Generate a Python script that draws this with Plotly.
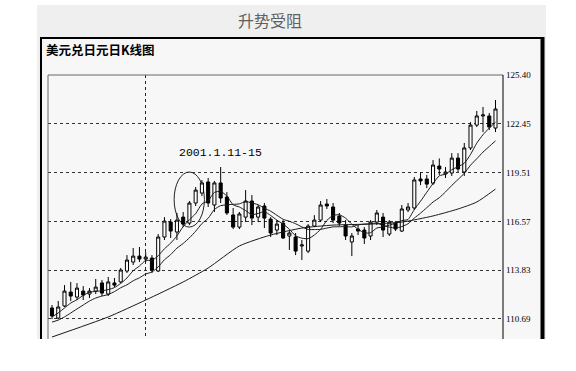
import plotly.graph_objects as go

# ---------------- data ----------------
day_index = list(range(1, 73))

open_ = [111.35, 110.74, 111.47, 112.31, 112.01, 112.37, 112.19, 112.37, 112.86, 112.19,
         112.86, 112.92, 113.58, 114.12, 114.48, 114.30, 114.36, 113.58, 115.63, 116.53,
         115.93, 116.83, 116.47, 117.68, 118.28, 118.95, 117.56, 118.89, 118.04, 116.96,
         116.23, 116.83, 117.80, 116.83, 117.50, 116.71, 116.05, 116.47, 115.69, 115.63,
         115.09, 114.78, 116.29, 116.65, 117.62, 117.44, 116.89, 116.35, 115.33, 116.11,
         116.05, 115.69, 116.53, 116.83, 115.81, 116.47, 115.99, 117.26, 117.38, 119.13,
         119.13, 118.88, 119.91, 119.43, 119.49, 120.39, 119.55, 121.00, 122.38, 122.93,
         122.93, 122.20]
high = [111.53, 111.77, 112.73, 112.92, 112.85, 112.67, 112.55, 113.10, 113.04, 113.22,
        113.16, 113.76, 114.54, 114.97, 115.03, 114.72, 114.54, 115.81, 116.83, 116.71,
        117.08, 117.14, 117.80, 118.64, 119.07, 119.19, 119.01, 119.85, 118.34, 117.38,
        117.14, 118.46, 118.16, 117.56, 117.68, 116.83, 116.65, 116.65, 115.99, 115.87,
        115.45, 116.41, 116.95, 117.80, 117.92, 117.68, 117.08, 116.65, 115.87, 116.35,
        116.23, 116.65, 117.26, 117.08, 116.65, 116.59, 117.56, 117.68, 119.25, 119.55,
        119.37, 120.27, 120.37, 119.85, 120.69, 120.69, 121.30, 122.56, 123.23, 123.47,
        123.11, 123.89]
low = [110.68, 110.68, 111.41, 111.77, 111.83, 111.83, 111.95, 112.19, 112.07, 112.07,
       112.61, 112.86, 113.46, 113.94, 114.12, 114.12, 113.46, 113.52, 115.45, 115.57,
       115.45, 116.23, 116.35, 117.50, 118.10, 117.44, 117.14, 117.68, 116.96, 116.11,
       116.11, 116.53, 116.35, 116.53, 116.17, 115.63, 115.75, 115.51, 114.85, 114.54,
       114.24, 114.66, 116.23, 116.53, 117.32, 116.47, 116.29, 115.45, 114.48, 115.75,
       115.21, 115.45, 116.35, 115.63, 115.69, 115.99, 115.93, 117.14, 117.26, 118.76,
       118.58, 118.76, 119.37, 119.19, 119.31, 119.55, 119.31, 120.88, 122.26, 121.96,
       122.08, 121.96]
close = [110.87, 111.41, 112.37, 112.07, 112.55, 112.13, 112.37, 112.61, 112.25, 112.92,
         112.73, 113.64, 114.24, 114.48, 114.30, 114.42, 113.64, 115.63, 116.59, 115.99,
         116.65, 116.41, 117.68, 118.46, 118.89, 117.68, 118.89, 117.98, 117.08, 116.23,
         117.02, 117.80, 116.77, 117.44, 116.77, 115.87, 116.41, 115.57, 115.87, 114.78,
         115.15, 116.29, 116.65, 117.56, 117.50, 116.65, 116.47, 115.69, 115.69, 115.99,
         115.57, 116.53, 117.08, 116.05, 116.53, 116.11, 117.32, 117.44, 119.07, 119.01,
         118.82, 119.97, 119.73, 119.55, 120.39, 119.73, 121.00, 122.38, 122.93, 122.99,
         122.26, 123.35]

ma_short = [110.81, 111.05, 111.35, 111.65, 111.85, 112.11, 112.30, 112.35, 112.39, 112.46,
            112.58, 112.83, 113.16, 113.60, 113.88, 114.22, 114.22, 114.50, 114.92, 115.26,
            115.70, 116.26, 116.67, 117.04, 117.62, 117.82, 118.32, 118.38, 118.10, 117.57,
            117.44, 117.22, 116.98, 117.05, 117.16, 116.93, 116.65, 116.41, 116.10, 115.70,
            115.56, 115.53, 115.75, 116.09, 116.63, 116.93, 116.97, 116.77, 116.40, 116.10,
            115.88, 115.89, 116.17, 116.24, 116.35, 116.46, 116.62, 116.69, 117.29, 117.79,
            118.33, 118.86, 119.32, 119.42, 119.69, 119.87, 120.08, 120.61, 121.29, 121.80,
            122.20, 122.55]
ma_mid = [110.50, 110.62, 110.81, 111.05, 111.29, 111.53, 111.77, 111.95, 112.07, 112.16,
          112.34, 112.57, 112.75, 112.99, 113.17, 113.40, 113.52, 113.83, 114.26, 114.57,
          114.96, 115.24, 115.58, 115.98, 116.44, 116.76, 117.29, 117.52, 117.57, 117.60,
          117.63, 117.77, 117.68, 117.58, 117.37, 117.19, 116.94, 116.70, 116.58, 116.43,
          116.24, 116.09, 116.08, 116.09, 116.17, 116.24, 116.25, 116.26, 116.24, 116.36,
          116.41, 116.43, 116.47, 116.32, 116.23, 116.17, 116.26, 116.43, 116.77, 117.07,
          117.40, 117.74, 118.00, 118.35, 118.74, 119.10, 119.47, 119.96, 120.35, 120.75,
          121.09, 121.43]
ma_long_index = [1, 10, 16, 22, 26, 31, 36, 41, 46, 52, 57, 62, 66, 69, 72]
ma_long = [109.60, 110.81, 111.83, 112.92, 113.76, 115.09, 115.75, 116.17, 116.35, 116.41,
           116.53, 116.90, 117.32, 117.74, 118.52]

tick_labels = ["125.40", "122.45", "119.51", "116.57", "113.83", "110.69"]
tick_positions = [125.40, 122.458, 119.516, 116.574, 113.632, 110.69]
vertical_grid_day = [16]

title_text = "升势受阻"
subtitle_text = "美元兑日元日K线图"
note_text = "2001.1.11-15"
note_day, note_value = 27.9, 120.75
ellipse_days = (20.55, 25.4)
ellipse_values = (116.23, 119.55)

# ---------------- figure ----------------
fig = go.Figure()

line_col = "#1a1a1a"
for ys, xs in [(ma_long, ma_long_index), (ma_mid, day_index), (ma_short, day_index)]:
    fig.add_trace(go.Scatter(x=xs, y=ys, mode="lines",
                             line=dict(color=line_col, width=1, shape="spline", smoothing=0.6),
                             hoverinfo="skip", showlegend=False))

fig.add_trace(go.Candlestick(
    x=day_index, open=open_, high=high, low=low, close=close,
    increasing=dict(fillcolor="white", line=dict(color="black", width=1)),
    decreasing=dict(fillcolor="black", line=dict(color="black", width=1)),
    whiskerwidth=0, showlegend=False))

# layout geometry (plot area: x 48..503, y 75..339 in pixels)
W, H = 576, 371
L, R, T, B = 48, 503, 75, 339
pw, ph = R - L, B - T


def px(X):
    return (X - L) / pw


def py(Y):
    return (B - Y) / ph


shapes = [
    # outer grey panel
    dict(type="rect", xref="paper", yref="paper", x0=px(37), x1=px(546), y0=py(339), y1=py(5),
         fillcolor="#efefef", line=dict(width=0), layer="below"),
    dict(type="rect", xref="paper", yref="paper", x0=px(41), x1=px(542), y0=py(339), y1=py(38),
         fillcolor="#f7f7f7", line=dict(width=0), layer="below"),
    # black frame
    dict(type="line", xref="paper", yref="paper", x0=px(41), x1=px(41), y0=py(339), y1=py(37),
         line=dict(color="black", width=2)),
    dict(type="line", xref="paper", yref="paper", x0=px(40), x1=px(544), y0=py(38), y1=py(38),
         line=dict(color="black", width=2)),
    dict(type="line", xref="paper", yref="paper", x0=px(542.5), x1=px(542.5), y0=py(339), y1=py(37),
         line=dict(color="black", width=4)),
    # plot borders
    dict(type="line", xref="paper", yref="paper", x0=0, x1=0, y0=0, y1=1,
         line=dict(color="#666666", width=1)),
    dict(type="line", xref="paper", yref="paper", x0=0, x1=1, y0=1, y1=1,
         line=dict(color="#666666", width=1)),
    dict(type="line", xref="paper", yref="paper", x0=1, x1=1, y0=0, y1=1,
         line=dict(color="black", width=1)),
    # ellipse around the annotated candles
    dict(type="circle", xref="x", yref="y", x0=ellipse_days[0], x1=ellipse_days[1],
         y0=ellipse_values[0], y1=ellipse_values[1], line=dict(color="#222222", width=1),
         layer="below"),
]

annotations = [
    dict(text=title_text, xref="paper", yref="paper", x=px(270), y=py(20), showarrow=False,
         xanchor="center", yanchor="middle",
         font=dict(family="Noto Sans CJK SC", size=16, color="#606060")),
    dict(text="<b>" + subtitle_text + "</b>", xref="paper", yref="paper", x=px(44), y=py(50),
         xanchor="left", yanchor="middle", showarrow=False,
         font=dict(family="Noto Sans CJK SC", size=12.5, color="black")),
    dict(text=note_text, xref="x", yref="y", x=note_day, y=note_value, showarrow=False,
         xanchor="center", yanchor="middle",
         font=dict(family="Liberation Mono", size=11.5, color="black")),
]

fig.update_layout(
    width=W, height=H,
    margin=dict(l=L, r=W - R, t=T, b=H - B, pad=0),
    paper_bgcolor="white", plot_bgcolor="#f7f7f7",
    shapes=shapes, annotations=annotations,
    xaxis=dict(range=[0.36, 73.2], rangeslider=dict(visible=False), showticklabels=False,
               tickvals=vertical_grid_day, ticks="", showgrid=True, gridcolor="#222222",
               griddash="dot", gridwidth=1, zeroline=False, showline=False),
    yaxis=dict(range=[109.48, 125.40], side="right", tickvals=tick_positions,
               ticktext=tick_labels, ticks="", showgrid=True, gridcolor="#333333",
               griddash="dot", gridwidth=1, zeroline=False, showline=False,
               tickfont=dict(family="Liberation Serif", size=9, color="black"),
               ticklabelstandoff=2),
    showlegend=False,
)

fig.write_html("out.html")
